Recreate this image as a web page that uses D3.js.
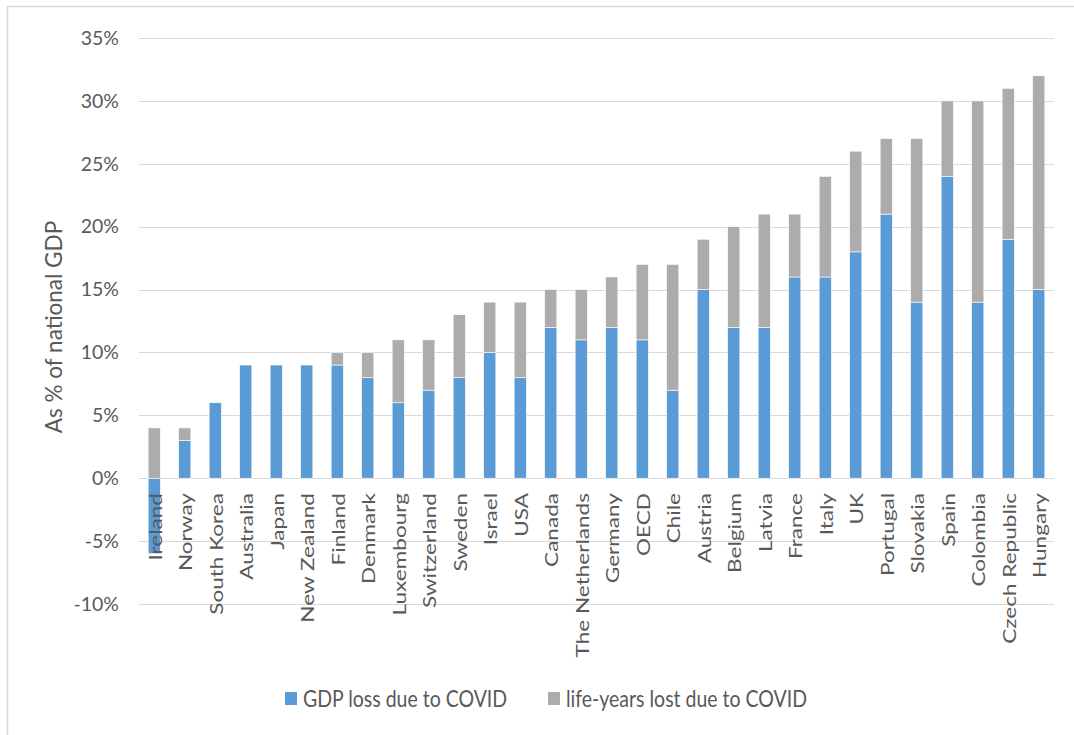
<!DOCTYPE html>
<html><head><meta charset="utf-8">
<script src="https://cdn.jsdelivr.net/npm/d3@7"></script>
<style>
body{margin:0;background:#fff;}
text{font-family:Lato,"Open Sans",sans-serif;fill:#595959;}
</style></head>
<body>
<svg id="c" width="1074" height="735"></svg>
<script>
const categories = ["Ireland","Norway","South Korea","Australia","Japan","New Zealand","Finland","Denmark","Luxembourg","Switzerland","Sweden","Israel","USA","Canada","The Netherlands","Germany","OECD","Chile","Austria","Belgium","Latvia","France","Italy","UK","Portugal","Slovakia","Spain","Colombia","Czech Republic","Hungary"];
const gdpLoss = [-6,3,6,9,9,9,9,8,6,7,8,10,8,12,11,12,11,7,15,12,12,16,16,18,21,14,24,14,19,15];
const lifeYearsLost = [4,1,0,0,0,0,1,2,5,4,5,4,6,3,4,4,6,10,4,8,9,5,8,8,6,13,6,16,12,17];
const yTicks = [-10,-5,0,5,10,15,20,25,30,35];
const seriesNames = ["GDP loss due to COVID","life-years lost due to COVID"];
const colors = ["#5B9BD5","#AEABAB"];

const svg = d3.select("#c");
svg.append("rect").attr("x",7.5).attr("y",6.5).attr("width",1080).attr("height",740)
  .attr("fill","none").attr("stroke","#D9D9D9").attr("stroke-width",1.5);

const x = d3.scaleBand().domain(categories).range([139,1054]).paddingInner(0.6).paddingOuter(0.3);
const y = d3.scaleLinear().domain([-10,35]).range([604,38]);

// gridlines
svg.append("g").selectAll("line").data(yTicks).join("line")
  .attr("x1",139).attr("x2",1054)
  .attr("y1",d=>Math.round(y(d))+0.5).attr("y2",d=>Math.round(y(d))+0.5)
  .attr("stroke","#D9D9D9").attr("stroke-width",1.2);

// y axis labels
const yAxis = d3.axisLeft(y).tickValues(yTicks).tickFormat(d=>d+"%").tickSize(0).tickPadding(20);
const gy = svg.append("g").attr("transform","translate(139,0)").call(yAxis);
gy.select(".domain").remove();
gy.selectAll("text").style("font-size","19.5px").style("fill","#595959").style("font-family","Lato,sans-serif");

// bars
const rows = categories.map((c,i)=>({c, g:gdpLoss[i], l:lifeYearsLost[i]}));
const bg = svg.append("g");
rows.forEach(r=>{
  const base = Math.max(0, r.g);
  bg.append("rect").attr("x",x(r.c)).attr("width",x.bandwidth())
    .attr("y",y(Math.max(0,r.g))).attr("height",Math.abs(y(r.g)-y(0)))
    .attr("fill",colors[0]).attr("stroke","#fff").attr("stroke-width",0.6);
  if (r.l>0) bg.append("rect").attr("x",x(r.c)).attr("width",x.bandwidth())
    .attr("y",y(base+r.l)).attr("height",y(base)-y(base+r.l))
    .attr("fill",colors[1]).attr("stroke","#fff").attr("stroke-width",0.6);
});

// category labels
svg.append("g").selectAll("text").data(categories).join("text")
  .attr("transform",d=>`translate(${x(d)+x.bandwidth()/2+7.5},493) rotate(-90) scale(1.29,1)`)
  .attr("text-anchor","end").style("font-size","17.5px").text(d=>d);

// y title
svg.append("text").attr("transform","translate(62,327) rotate(-90)")
  .attr("text-anchor","middle").style("font-size","22.5px").text("As % of national GDP");

// legend
const leg = [{x:285,name:seriesNames[0],c:colors[0]},{x:548,name:seriesNames[1],c:colors[1]}];
const lg = svg.append("g").selectAll("g").data(leg).join("g");
lg.append("rect").attr("x",d=>d.x).attr("y",692).attr("width",12).attr("height",13).attr("fill",d=>d.c);
lg.append("text").attr("transform",d=>`translate(${d.x+18},706.5) scale(1,1.2)`)
  .style("font-size","19.5px").text(d=>d.name);
</script>
</body></html>
